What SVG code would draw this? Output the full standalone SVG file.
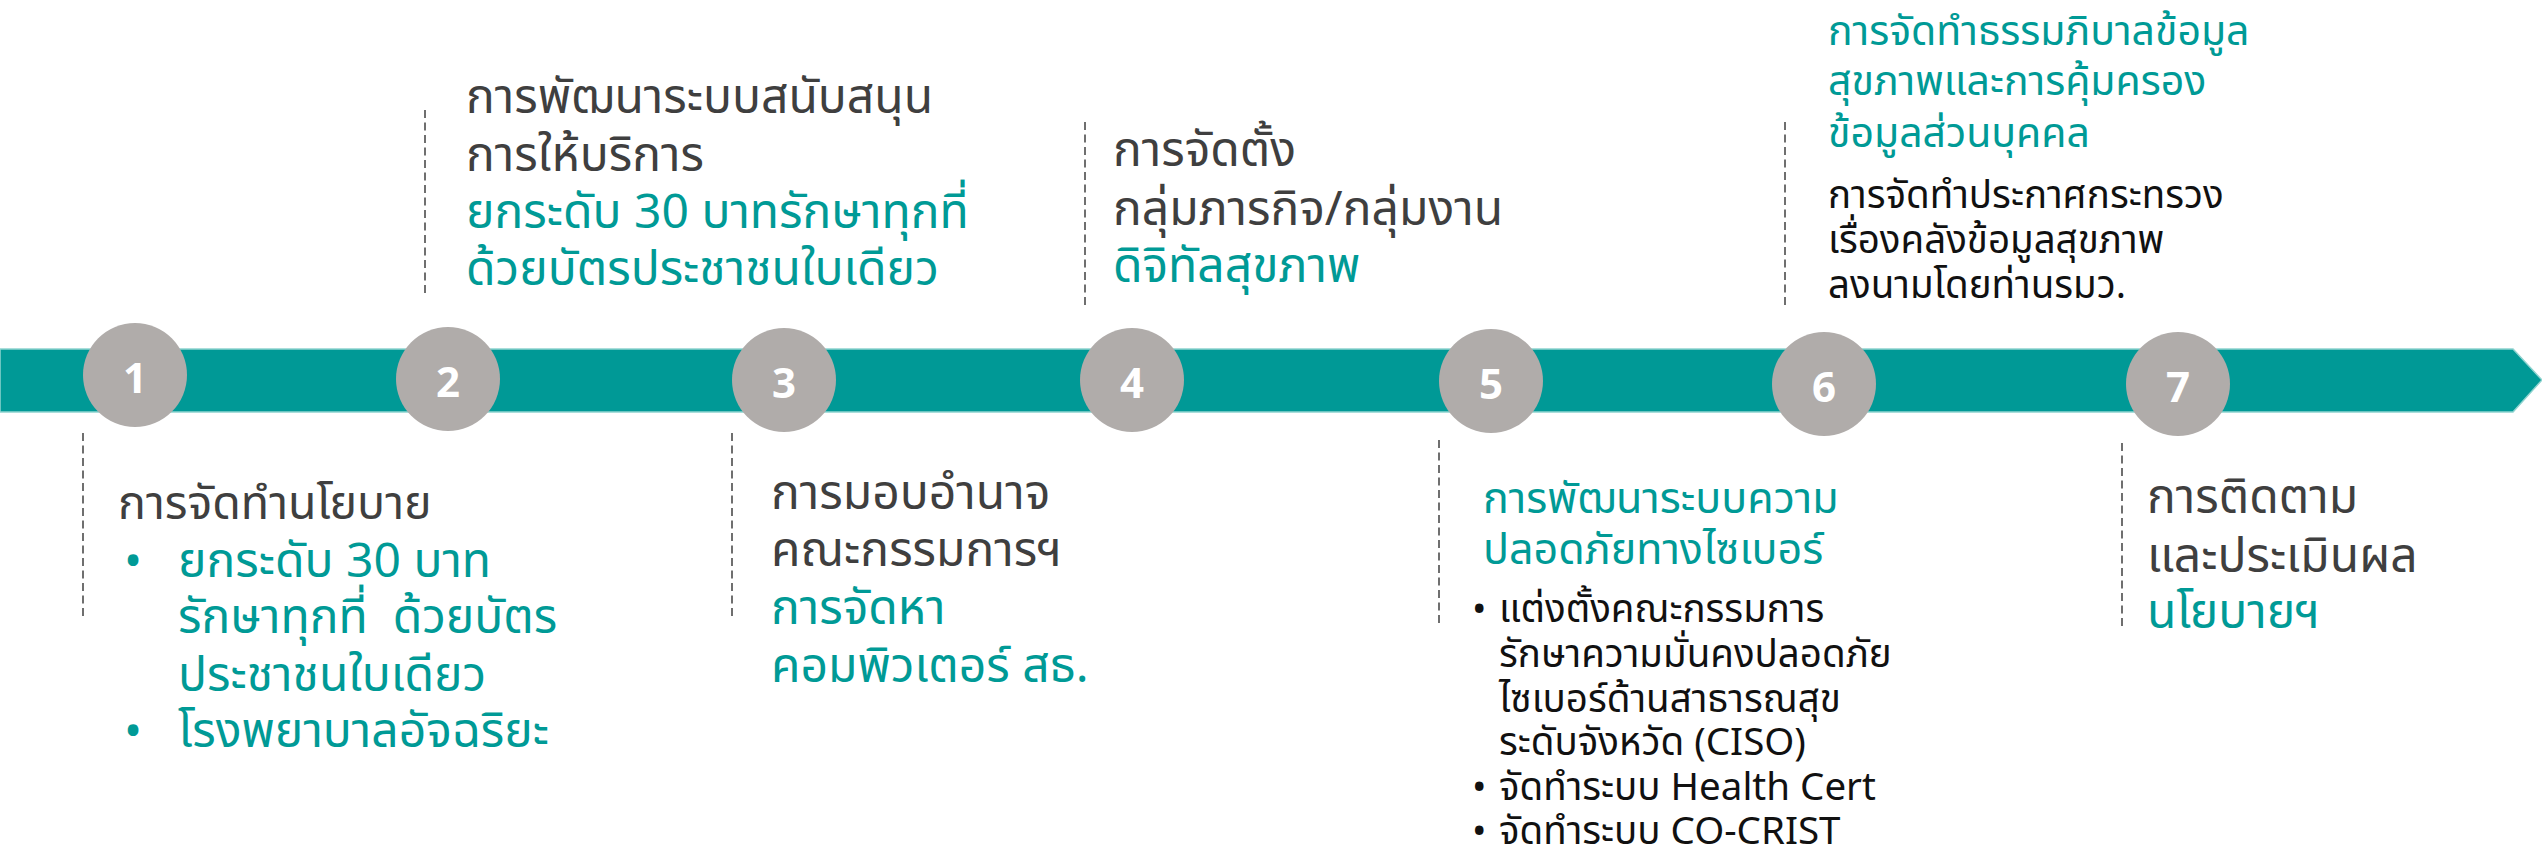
<svg xmlns="http://www.w3.org/2000/svg" width="2542" height="849" viewBox="0 0 2542 849">
<defs>
<style>
text{font-family:"Noto Sans Thai","Noto Sans","DejaVu Sans",sans-serif;}
.t{font-size:48px;}
.t1{font-size:46.5px;}
.dk{fill:#3f3f3f;}
.tl{fill:#009a96;}
.bk{fill:#111111;}
.h5{font-size:43px;}
.h6{font-size:41px;}
.xs{font-size:38.5px;}
.num{font-size:42px;font-weight:700;fill:#ffffff;text-anchor:middle;}
.dash{stroke:#333333;stroke-width:1.4;stroke-dasharray:8 4.5;fill:none;}
.circ{fill:#b0acaa;}
</style>
</defs>
<g id="timeline">
<polygon points="0,349 2513,349 2542,380 2513,412 0,412" fill="#009996" stroke="#8fd3cf" stroke-width="1.5"/>
</g>
<g id="connectors">
<line class="dash" x1="83" y1="433" x2="83" y2="619"/>
<line class="dash" x1="425" y1="110" x2="425" y2="295"/>
<line class="dash" x1="732" y1="433" x2="732" y2="619"/>
<line class="dash" x1="1085" y1="122" x2="1085" y2="307"/>
<line class="dash" x1="1439" y1="440" x2="1439" y2="625"/>
<line class="dash" x1="1785" y1="122" x2="1785" y2="305"/>
<line class="dash" x1="2122" y1="443" x2="2122" y2="628"/>
</g>
<g id="node1">
<circle class="circ" cx="135" cy="375" r="52"/>
<text class="num" x="135" y="393">1</text>
<text class="t1 dk" x="118" y="519">การจัดทำนโยบาย</text>
<text class="t tl" x="124" y="577">•</text>
<text class="t tl" x="178" y="577">ยกระดับ 30 บาท</text>
<text class="t tl" x="178" y="633" xml:space="preserve">รักษาทุกที่  ด้วยบัตร</text>
<text class="t tl" x="178" y="691">ประชาชนใบเดียว</text>
<text class="t tl" x="124" y="747">•</text>
<text class="t tl" x="178" y="747">โรงพยาบาลอัจฉริยะ</text>
</g>
<g id="node2">
<circle class="circ" cx="448" cy="379" r="52"/>
<text class="num" x="448" y="397">2</text>
<text class="t dk" x="466" y="113">การพัฒนาระบบสนับสนุน</text>
<text class="t dk" x="466" y="171">การให้บริการ</text>
<text class="t tl" x="466" y="228">ยกระดับ 30 บาทรักษาทุกที่</text>
<text class="t tl" x="466" y="285">ด้วยบัตรประชาชนใบเดียว</text>
</g>
<g id="node3">
<circle class="circ" cx="784" cy="380" r="52"/>
<text class="num" x="784" y="398">3</text>
<text class="t dk" x="771" y="509">การมอบอำนาจ</text>
<text class="t dk" x="771" y="566">คณะกรรมการฯ</text>
<text class="t tl" x="771" y="624">การจัดหา</text>
<text class="t tl" x="771" y="682">คอมพิวเตอร์ สธ.</text>
</g>
<g id="node4">
<circle class="circ" cx="1132" cy="380" r="52"/>
<text class="num" x="1132" y="398">4</text>
<text class="t dk" x="1113" y="166">การจัดตั้ง</text>
<text class="t dk" x="1113" y="225">กลุ่มภารกิจ/กลุ่มงาน</text>
<text class="t tl" x="1113" y="282">ดิจิทัลสุขภาพ</text>
</g>
<g id="node5">
<circle class="circ" cx="1491" cy="381" r="52"/>
<text class="num" x="1491" y="399">5</text>
<text class="h5 tl" x="1483" y="513">การพัฒนาระบบความ</text>
<text class="h5 tl" x="1483" y="564">ปลอดภัยทางไซเบอร์</text>
<text class="xs bk" x="1472" y="622">•</text>
<text class="xs bk" x="1499" y="622">แต่งตั้งคณะกรรมการ</text>
<text class="xs bk" x="1499" y="667">รักษาความมั่นคงปลอดภัย</text>
<text class="xs bk" x="1499" y="712">ไซเบอร์ด้านสาธารณสุข</text>
<text class="xs bk" x="1499" y="755">ระดับจังหวัด (CISO)</text>
<text class="xs bk" x="1472" y="800">•</text>
<text class="xs bk" x="1499" y="800">จัดทำระบบ Health Cert</text>
<text class="xs bk" x="1472" y="844">•</text>
<text class="xs bk" x="1499" y="844">จัดทำระบบ CO-CRIST</text>
</g>
<g id="node6">
<circle class="circ" cx="1824" cy="384" r="52"/>
<text class="num" x="1824" y="402">6</text>
<text class="h6 tl" x="1828" y="45">การจัดทำธรรมภิบาลข้อมูล</text>
<text class="h6 tl" x="1828" y="95">สุขภาพและการคุ้มครอง</text>
<text class="h6 tl" x="1828" y="147">ข้อมูลส่วนบุคคล</text>
<text class="xs bk" x="1828" y="208">การจัดทำประกาศกระทรวง</text>
<text class="xs bk" x="1828" y="253">เรื่องคลังข้อมูลสุขภาพ</text>
<text class="xs bk" x="1828" y="298">ลงนามโดยท่านรมว.</text>
</g>
<g id="node7">
<circle class="circ" cx="2178" cy="384" r="52"/>
<text class="num" x="2178" y="402">7</text>
<text class="t dk" x="2147" y="513">การติดตาม</text>
<text class="t dk" x="2147" y="572">และประเมินผล</text>
<text class="t tl" x="2147" y="628">นโยบายฯ</text>
</g>
</svg>
